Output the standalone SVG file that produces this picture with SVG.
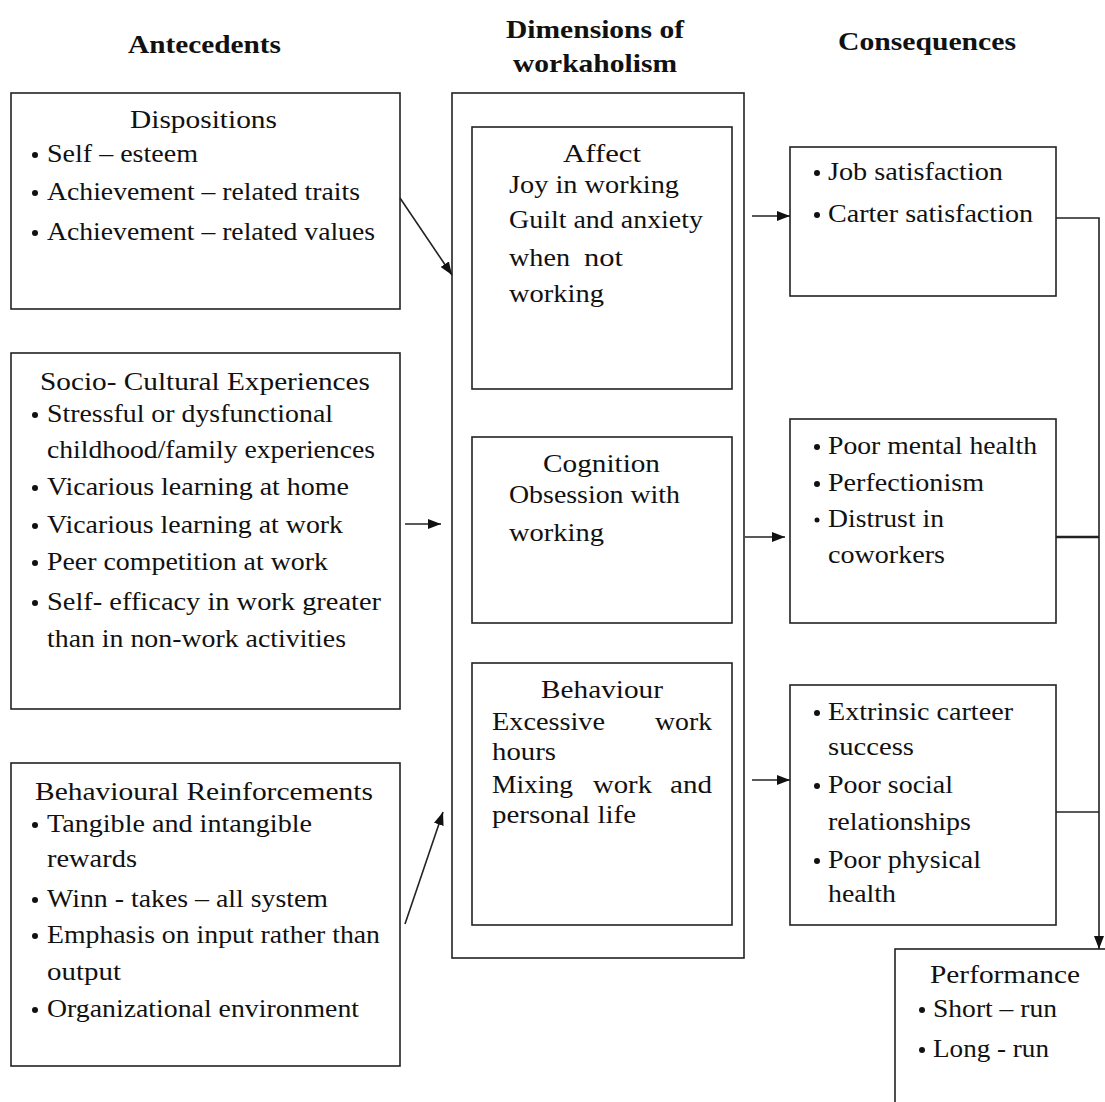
<svg xmlns="http://www.w3.org/2000/svg" width="1105" height="1102" viewBox="0 0 1105 1102">
  <style>
    .box { fill: #fff; stroke: #222; stroke-width: 1.6; }
    .t { font-family: "Liberation Serif", "Times New Roman", serif; font-size: 26px; fill: #111; }
    .h { font-family: "Liberation Serif", "Times New Roman", serif; font-size: 26px; font-weight: bold; fill: #111; }
    .dot { fill: #111; }
    .wire { fill: none; stroke: #222; stroke-width: 1.6; }
  </style>
  <defs>
    <marker id="arrow" markerUnits="userSpaceOnUse" markerWidth="14" markerHeight="10" refX="13" refY="5" orient="auto">
      <path d="M0,0 L13,5 L0,10 z" fill="#111"/>
    </marker>
  </defs>
  <rect width="1105" height="1102" fill="#fff"/>

  <!-- column headings -->
  <g id="headings">
    <text class="h" x="204.5" y="53" text-anchor="middle" textLength="153" lengthAdjust="spacingAndGlyphs">Antecedents</text>
    <text class="h" x="595" y="38" text-anchor="middle" textLength="178" lengthAdjust="spacingAndGlyphs">Dimensions of</text>
    <text class="h" x="595" y="72" text-anchor="middle" textLength="164" lengthAdjust="spacingAndGlyphs">workaholism</text>
    <text class="h" x="927" y="50" text-anchor="middle" textLength="178" lengthAdjust="spacingAndGlyphs">Consequences</text>
  </g>

  <!-- antecedents -->
  <g id="dispositions">
    <rect class="box" x="11" y="93" width="389" height="216"/>
    <text class="t" x="130" y="128" textLength="147" lengthAdjust="spacingAndGlyphs">Dispositions</text>
    <circle class="dot" cx="35" cy="155" r="3"/>
    <text class="t" x="47" y="162" textLength="151" lengthAdjust="spacingAndGlyphs">Self – esteem</text>
    <circle class="dot" cx="35" cy="193" r="3"/>
    <text class="t" x="47" y="200" textLength="313" lengthAdjust="spacingAndGlyphs">Achievement – related traits</text>
    <circle class="dot" cx="35" cy="233" r="3"/>
    <text class="t" x="47" y="240" textLength="328" lengthAdjust="spacingAndGlyphs">Achievement – related values</text>
  </g>

  <g id="socio-cultural">
    <rect class="box" x="11" y="353" width="389" height="356"/>
    <text class="t" x="40" y="390" textLength="330" lengthAdjust="spacingAndGlyphs">Socio- Cultural Experiences</text>
    <circle class="dot" cx="35" cy="415" r="3"/>
    <text class="t" x="47" y="422" textLength="286" lengthAdjust="spacingAndGlyphs">Stressful or dysfunctional</text>
    <text class="t" x="47" y="458" textLength="328" lengthAdjust="spacingAndGlyphs">childhood/family experiences</text>
    <circle class="dot" cx="35" cy="488" r="3"/>
    <text class="t" x="47" y="495" textLength="302" lengthAdjust="spacingAndGlyphs">Vicarious learning at home</text>
    <circle class="dot" cx="35" cy="526" r="3"/>
    <text class="t" x="47" y="533" textLength="296" lengthAdjust="spacingAndGlyphs">Vicarious learning at work</text>
    <circle class="dot" cx="35" cy="563" r="3"/>
    <text class="t" x="47" y="570" textLength="281" lengthAdjust="spacingAndGlyphs">Peer competition at work</text>
    <circle class="dot" cx="35" cy="603" r="3"/>
    <text class="t" x="47" y="610" textLength="334" lengthAdjust="spacingAndGlyphs">Self- efficacy  in work greater</text>
    <text class="t" x="47" y="647" textLength="299" lengthAdjust="spacingAndGlyphs">than in non-work activities</text>
  </g>

  <g id="behavioural-reinforcements">
    <rect class="box" x="11" y="763" width="389" height="303"/>
    <text class="t" x="35" y="800" textLength="338" lengthAdjust="spacingAndGlyphs">Behavioural Reinforcements</text>
    <circle class="dot" cx="35" cy="825" r="3"/>
    <text class="t" x="47" y="832" textLength="265" lengthAdjust="spacingAndGlyphs">Tangible and intangible</text>
    <text class="t" x="47" y="867" textLength="90" lengthAdjust="spacingAndGlyphs">rewards</text>
    <circle class="dot" cx="35" cy="900" r="3"/>
    <text class="t" x="47" y="907" textLength="281" lengthAdjust="spacingAndGlyphs">Winn - takes – all system</text>
    <circle class="dot" cx="35" cy="936" r="3"/>
    <text class="t" x="47" y="943" textLength="333" lengthAdjust="spacingAndGlyphs">Emphasis on input rather than</text>
    <text class="t" x="47" y="980" textLength="74" lengthAdjust="spacingAndGlyphs">output</text>
    <circle class="dot" cx="35" cy="1010" r="3"/>
    <text class="t" x="47" y="1017" textLength="312" lengthAdjust="spacingAndGlyphs">Organizational environment</text>
  </g>

  <!-- dimensions of workaholism -->
  <g id="dimensions">
    <rect class="box" x="452" y="93" width="292" height="865"/>
  </g>

  <g id="affect">
    <rect class="box" x="472" y="127" width="260" height="262"/>
    <text class="t" x="563" y="162" textLength="78" lengthAdjust="spacingAndGlyphs">Affect</text>
    <text class="t" x="509" y="193" textLength="170" lengthAdjust="spacingAndGlyphs">Joy in working</text>
    <text class="t" x="509" y="228" textLength="194" lengthAdjust="spacingAndGlyphs">Guilt and anxiety</text>
    <text class="t" x="509" y="266" textLength="61" lengthAdjust="spacingAndGlyphs">when</text>
    <text class="t" x="584" y="266" textLength="39" lengthAdjust="spacingAndGlyphs">not</text>
    <text class="t" x="509" y="302" textLength="95" lengthAdjust="spacingAndGlyphs">working</text>
  </g>

  <g id="cognition">
    <rect class="box" x="472" y="437" width="260" height="186"/>
    <text class="t" x="543" y="472" textLength="117" lengthAdjust="spacingAndGlyphs">Cognition</text>
    <text class="t" x="509" y="503" textLength="171" lengthAdjust="spacingAndGlyphs">Obsession with</text>
    <text class="t" x="509" y="541" textLength="95" lengthAdjust="spacingAndGlyphs">working</text>
  </g>

  <g id="behaviour">
    <rect class="box" x="472" y="663" width="260" height="262"/>
    <text class="t" x="541" y="698" textLength="122" lengthAdjust="spacingAndGlyphs">Behaviour</text>
    <text class="t" x="492" y="730" textLength="113" lengthAdjust="spacingAndGlyphs">Excessive</text>
    <text class="t" x="655" y="730" textLength="57" lengthAdjust="spacingAndGlyphs">work</text>
    <text class="t" x="492" y="760" textLength="64" lengthAdjust="spacingAndGlyphs">hours</text>
    <text class="t" x="492" y="793" textLength="81" lengthAdjust="spacingAndGlyphs">Mixing</text>
    <text class="t" x="593" y="793" textLength="59" lengthAdjust="spacingAndGlyphs">work</text>
    <text class="t" x="670" y="793" textLength="42" lengthAdjust="spacingAndGlyphs">and</text>
    <text class="t" x="492" y="823" textLength="144" lengthAdjust="spacingAndGlyphs">personal life</text>
  </g>

  <!-- consequences -->
  <g id="satisfaction">
    <rect class="box" x="790" y="147" width="266" height="149"/>
    <circle class="dot" cx="817" cy="173" r="3"/>
    <text class="t" x="828" y="180" textLength="175" lengthAdjust="spacingAndGlyphs">Job satisfaction</text>
    <circle class="dot" cx="817" cy="215" r="3"/>
    <text class="t" x="828" y="222" textLength="205" lengthAdjust="spacingAndGlyphs">Carter satisfaction</text>
  </g>

  <g id="health">
    <rect class="box" x="790" y="419" width="266" height="204"/>
    <circle class="dot" cx="817" cy="447" r="3"/>
    <text class="t" x="828" y="454" textLength="209" lengthAdjust="spacingAndGlyphs">Poor mental health</text>
    <circle class="dot" cx="817" cy="484" r="3"/>
    <text class="t" x="828" y="491" textLength="156" lengthAdjust="spacingAndGlyphs">Perfectionism</text>
    <circle class="dot" cx="817" cy="520" r="2.5"/>
    <text class="t" x="828" y="527" textLength="116" lengthAdjust="spacingAndGlyphs">Distrust in</text>
    <text class="t" x="828" y="563" textLength="117" lengthAdjust="spacingAndGlyphs">coworkers</text>
  </g>

  <g id="success">
    <rect class="box" x="790" y="685" width="266" height="240"/>
    <circle class="dot" cx="817" cy="713" r="3"/>
    <text class="t" x="828" y="720" textLength="185" lengthAdjust="spacingAndGlyphs">Extrinsic carteer</text>
    <text class="t" x="828" y="755" textLength="86" lengthAdjust="spacingAndGlyphs">success</text>
    <circle class="dot" cx="817" cy="786" r="3"/>
    <text class="t" x="828" y="793" textLength="125" lengthAdjust="spacingAndGlyphs">Poor social</text>
    <text class="t" x="828" y="830" textLength="143" lengthAdjust="spacingAndGlyphs">relationships</text>
    <circle class="dot" cx="817" cy="861" r="3"/>
    <text class="t" x="828" y="868" textLength="153" lengthAdjust="spacingAndGlyphs">Poor physical</text>
    <text class="t" x="828" y="902" textLength="68" lengthAdjust="spacingAndGlyphs">health</text>
  </g>

  <g id="performance">
    <rect class="box" x="895" y="949" width="230" height="200"/>
    <text class="t" x="930" y="983" textLength="150" lengthAdjust="spacingAndGlyphs">Performance</text>
    <circle class="dot" cx="922" cy="1010" r="3"/>
    <text class="t" x="933" y="1017" textLength="124" lengthAdjust="spacingAndGlyphs">Short – run</text>
    <circle class="dot" cx="922" cy="1050" r="3"/>
    <text class="t" x="933" y="1057" textLength="116" lengthAdjust="spacingAndGlyphs">Long - run</text>
  </g>

  <!-- connectors -->
  <g id="connectors">
    <line class="wire" x1="400" y1="198" x2="452" y2="275" marker-end="url(#arrow)"/>
    <line class="wire" x1="405" y1="524" x2="441" y2="524" marker-end="url(#arrow)"/>
    <line class="wire" x1="405" y1="924" x2="443" y2="812" marker-end="url(#arrow)"/>
    <line class="wire" x1="752" y1="216" x2="790" y2="216" marker-end="url(#arrow)"/>
    <line class="wire" x1="745" y1="537" x2="785" y2="537" marker-end="url(#arrow)"/>
    <line class="wire" x1="752" y1="780" x2="790" y2="780" marker-end="url(#arrow)"/>
    <polyline class="wire" points="1056,218 1099,218 1099,949" marker-end="url(#arrow)"/>
    <line class="wire" x1="1056" y1="537" x2="1099" y2="537" style="stroke-width:2.4"/>
    <line class="wire" x1="1056" y1="812" x2="1099" y2="812"/>
  </g>
</svg>
